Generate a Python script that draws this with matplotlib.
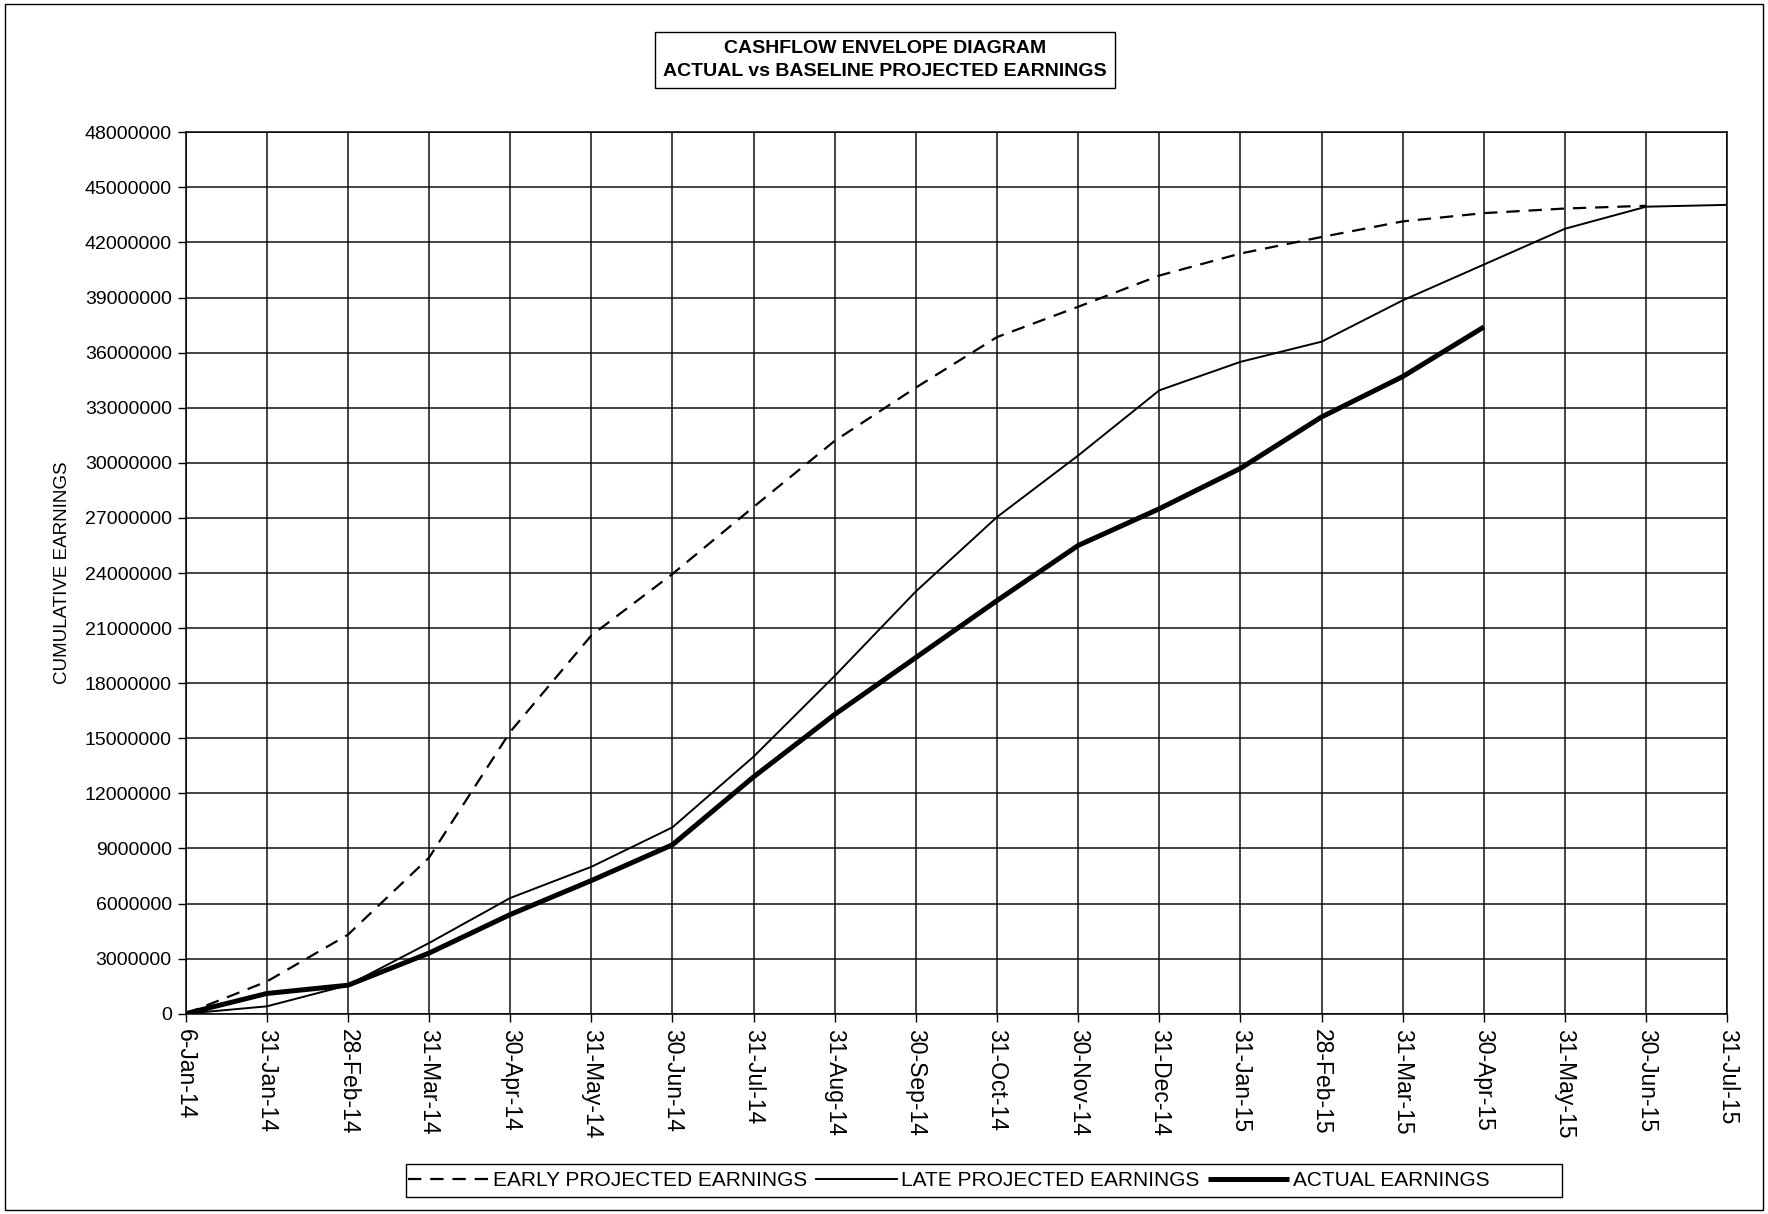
"""
Cashflow envelope diagram - actual vs baseline projected earnings
"""
import matplotlib
matplotlib.use('Agg')
import matplotlib.pyplot as plt
from matplotlib.ticker import FuncFormatter, MultipleLocator
import numpy as np

plt.rcParams['font.family'] = ['Liberation Sans', 'DejaVu Sans']

dates = ['6-Jan-14', '31-Jan-14', '28-Feb-14', '31-Mar-14', '30-Apr-14', '31-May-14',
         '30-Jun-14', '31-Jul-14', '31-Aug-14', '30-Sep-14', '31-Oct-14', '30-Nov-14',
         '31-Dec-14', '31-Jan-15', '28-Feb-15', '31-Mar-15', '30-Apr-15', '31-May-15',
         '30-Jun-15', '31-Jul-15']

# cumulative earnings, millions
early_projected = [0, 1.75, 4.3, 8.5, 15.35, 20.6, 23.95, 27.6, 31.2, 34.1, 36.85, 38.5,
                   40.2, 41.4, 42.3, 43.15, 43.6, 43.85, 44.0]
late_projected = [0, 0.4, 1.55, 3.85, 6.3, 8.0, 10.15, 14.0, 18.4, 23.0, 27.05, 30.4,
                  33.95, 35.5, 36.6, 38.85, 40.8, 42.75, 43.95, 44.05]
actual = [0, 1.1, 1.55, 3.3, 5.4, 7.25, 9.2, 12.9, 16.3, 19.4, 22.5, 25.5, 27.5, 29.7,
          32.5, 34.7, 37.4]

fig = plt.figure(figsize=(17.68, 12.14), dpi=100, facecolor='white')
ax = fig.add_axes([0.105, 0.165, 0.872, 0.726])

x_early = np.arange(len(early_projected))
x_late = np.arange(len(late_projected))
x_act = np.arange(len(actual))

ax.plot(x_early, np.array(early_projected) * 1e6, color='black', lw=1.6,
        dashes=(6, 4), label='EARLY PROJECTED EARNINGS')
ax.plot(x_late, np.array(late_projected) * 1e6, color='black', lw=1.4,
        label='LATE PROJECTED EARNINGS')
ax.plot(x_act, np.array(actual) * 1e6, color='black', lw=3.6,
        label='ACTUAL EARNINGS', solid_capstyle='butt')

# Axes
ax.set_xlim(0, len(dates) - 1)
ax.set_ylim(0, 48000000)
ax.yaxis.set_major_locator(MultipleLocator(3000000))
ax.yaxis.set_major_formatter(FuncFormatter(lambda v, p: f'{int(round(v))}'))
ax.set_xticks(np.arange(len(dates)))
ax.set_xticklabels(dates, rotation=-90, fontsize=16.5, va='top', ha='center')
ax.tick_params(axis='y', labelsize=14, length=6, width=1, pad=4)
ax.tick_params(axis='x', length=6, width=1, pad=5)
ax.set_ylabel('CUMULATIVE EARNINGS', fontsize=13.5, labelpad=10)

ax.grid(True, color='#111111', lw=1.1)
ax.set_axisbelow(True)
for s in ax.spines.values():
    s.set_color('black')
    s.set_linewidth(1.1)

# Title box
fig.text(0.5006, 0.9506, 'CASHFLOW ENVELOPE DIAGRAM\nACTUAL vs BASELINE PROJECTED EARNINGS',
         ha='center', va='center', fontsize=14, fontweight='bold', linespacing=1.45,
         bbox=dict(boxstyle='square,pad=0.4', facecolor='white', edgecolor='black', lw=1))

# Legend (frame drawn separately, it is wider than its content)
leg = fig.legend(loc='center left', bbox_to_anchor=(0.2305, 0.0275), ncol=3, fontsize=15,
                 frameon=False, handlelength=3.9, handletextpad=0.2, columnspacing=0.4,
                 borderpad=0.0, borderaxespad=0.0)
fig.patches.append(plt.Rectangle((0.2296, 0.014), 0.6539, 0.0272, transform=fig.transFigure,
                                 fill=False, edgecolor='black', lw=1))

# Chart area border
fig.patches.append(plt.Rectangle((0.003, 0.003), 0.994, 0.994, transform=fig.transFigure,
                                 fill=False, edgecolor='black', lw=1))

plt.savefig('out.png', dpi=100, facecolor='white')
plt.close()
print("out.png")
